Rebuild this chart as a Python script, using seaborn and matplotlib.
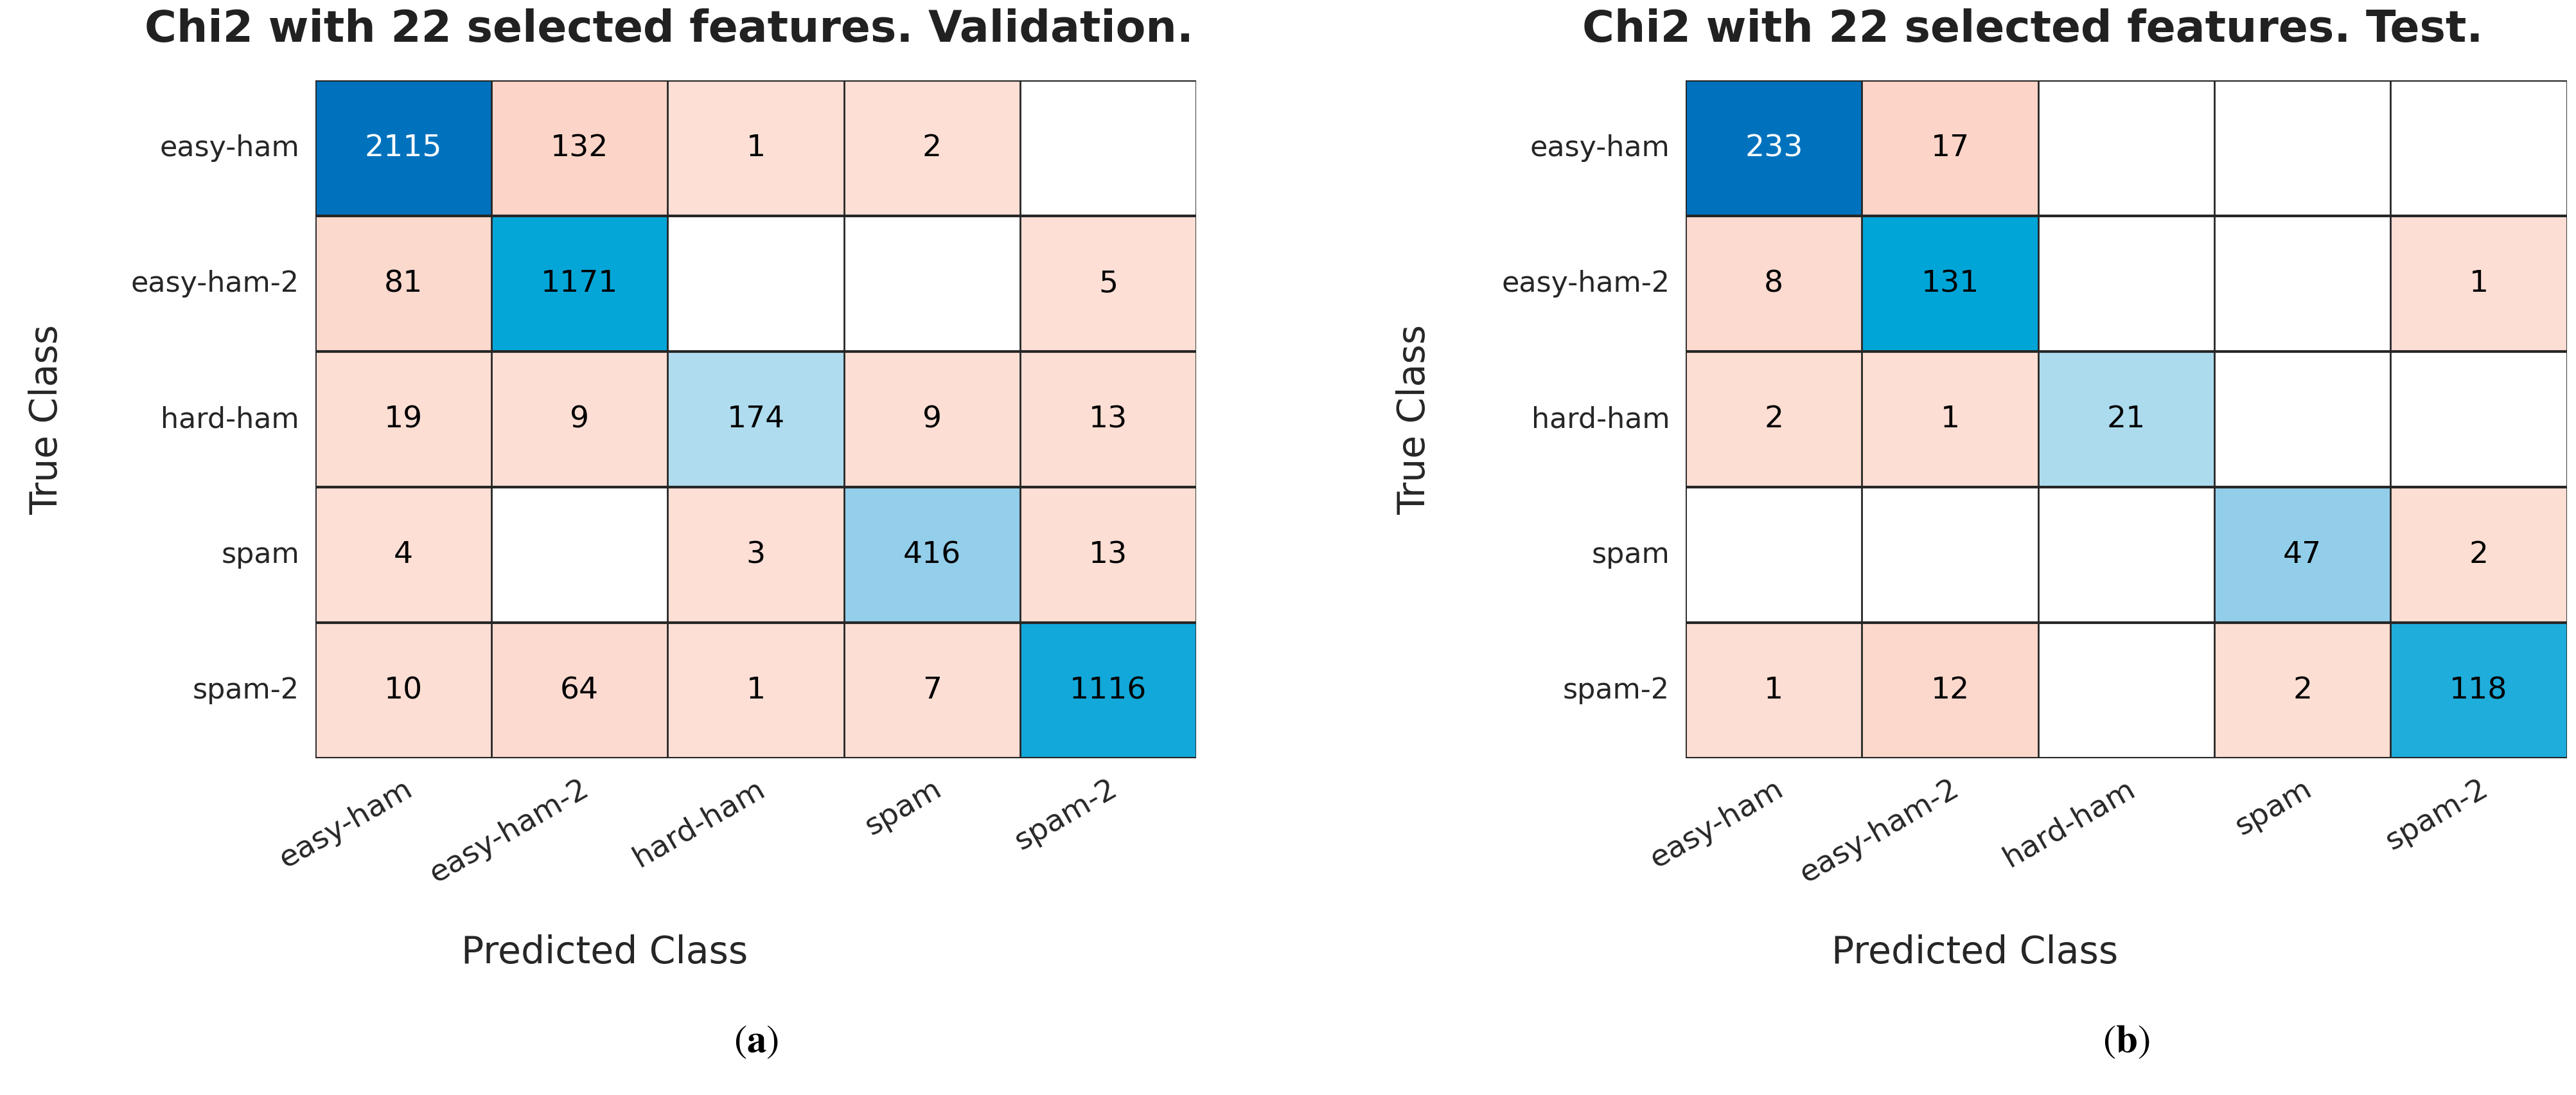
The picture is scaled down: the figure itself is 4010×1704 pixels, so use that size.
import matplotlib
matplotlib.use("Agg")
import matplotlib.pyplot as plt
import numpy as np
import pandas as pd
import seaborn as sns
from matplotlib.colors import LinearSegmentedColormap

classes = ["easy-ham", "easy-ham-2", "hard-ham", "spam", "spam-2"]

val_counts = [
    [2115, 132, 1, 2, 0],
    [81, 1171, 0, 0, 5],
    [19, 9, 174, 9, 13],
    [4, 0, 3, 416, 13],
    [10, 64, 1, 7, 1116],
]
test_counts = [
    [233, 17, 0, 0, 0],
    [8, 131, 0, 0, 1],
    [2, 1, 21, 0, 0],
    [0, 0, 0, 47, 2],
    [1, 12, 0, 2, 118],
]
titles = [
    "Chi2 with 22 selected features. Validation.",
    "Chi2 with 22 selected features. Test.",
]
tags = ["a", "b"]

sns.set_theme(style="white")
plt.rcParams["font.family"] = ["DejaVu Sans"]
plt.rcParams["mathtext.fontset"] = "stix"

# matlab confusionchart-like colours
diag_cmap = LinearSegmentedColormap.from_list(
    "diag",
    [(0.0, "#C8E7F4"), (0.08, "#B0DCEE"), (0.2, "#92CEEA"),
     (0.5, "#22AEDC"), (0.53, "#12A8DA"), (0.56, "#00A5D7"), (1.0, "#0072BD")],
)
off_cmap = LinearSegmentedColormap.from_list("off", ["#FDDFD5", "#FCD5C8"])

fig = plt.figure(figsize=(20.05, 8.52), dpi=200)
ax_pos = [[0.1224, 0.3075, 0.342, 0.619], [0.6544, 0.3075, 0.342, 0.619]]
title_x = [0.2596, 0.789]
xlab_x = [0.2347, 0.7666]
ylab_x = [0.018, 0.549]
tag_x = [0.2935, 0.8253]

for k, counts in enumerate([val_counts, test_counts]):
    df = pd.DataFrame(counts, index=classes, columns=classes)
    arr = df.to_numpy()
    eye = np.eye(len(classes), dtype=bool)
    ax = fig.add_axes(ax_pos[k])

    off_max = arr[~eye].max()
    diag_max = arr[eye].max()
    sns.heatmap(df, mask=eye | (arr == 0), cmap=off_cmap, vmin=0, vmax=off_max,
                annot=True, fmt="d", cbar=False, ax=ax,
                annot_kws={"fontsize": 17, "color": "black"})
    sns.heatmap(df, mask=~eye | (arr == 0), cmap=diag_cmap, vmin=0, vmax=diag_max,
                annot=True, fmt="d", cbar=False, ax=ax,
                annot_kws={"fontsize": 17, "color": "black"})
    for t in ax.texts:
        if int(t.get_text()) / diag_max > 0.8:
            t.set_color("white")

    for i in range(len(classes) + 1):
        ax.axhline(i, color="#262626", lw=1.5, zorder=5)
        ax.axvline(i, color="#262626", lw=1.0, zorder=5)

    ax.set_xticklabels(classes, rotation=30, ha="right", rotation_mode="anchor",
                       fontsize=17, color="#262626")
    ax.set_yticklabels(classes, rotation=0, fontsize=16, color="#262626")
    ax.tick_params(length=0, pad=9)
    ax.set_xlabel("")
    ax.set_ylabel("")

    fig.text(title_x[k], 0.973, titles[k], ha="center", va="center",
             fontsize=24.5, fontweight="bold", color="#212121")
    fig.text(xlab_x[k], 0.1297, "Predicted Class", ha="center", va="center",
             fontsize=21, color="#262626")
    fig.text(ylab_x[k], 0.617, "True Class", ha="center", va="center",
             rotation=90, fontsize=21, color="#262626")
    fig.text(tag_x[k], 0.0487, r"$(\mathbf{" + tags[k] + r"})$", ha="center",
             va="center", fontsize=22, color="black")

fig.savefig("out.png", dpi=200)
